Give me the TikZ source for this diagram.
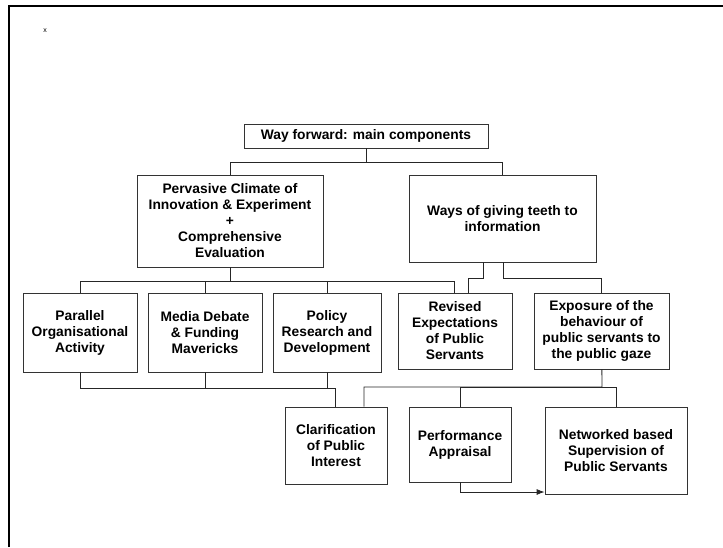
\documentclass[tikz,border=0pt]{standalone}
\usepackage{fontspec}
\setmainfont{Liberation Sans}
\usepackage{tikz}
\usetikzlibrary{arrows}
\usetikzlibrary{arrows.meta}
\usetikzlibrary{positioning}

\begin{document}
\begin{tikzpicture}[x=1pt, y=-1pt,
    box/.style={draw=black!80, line width=0.8pt, inner sep=0pt, align=center,
      font=\bfseries\fontsize{13.8}{16}\selectfont},
    link/.style={draw=black!85, line width=0.8pt}]
      \useasboundingbox (0, 0) rectangle (723, 547);
      \draw [line width=2.6pt] (9, 547) -- (9, 6) -- (723, 6);
      \node (mark) at (45, 31) {\fontsize{7}{8}\selectfont x};

      \node [box, minimum width=244, minimum height=24] (way) at (366, 136) {Way forward: main components};
      \node [box, minimum width=186, minimum height=92] (clim) at (230, 221)
        {Pervasive Climate of\\Innovation \& Experiment\\+\\Comprehensive\\Evaluation};
      \node [box, minimum width=187, minimum height=87] (teeth) at (502.5, 218.5)
        {Ways of giving teeth to\\information};

      \node [box, minimum width=114, minimum height=79] (par) at (80, 332.5) {Parallel\\Organisational\\Activity};
      \node [box, minimum width=114, minimum height=79] (media) at (205, 332.5) {Media Debate\\\& Funding\\Mavericks};
      \node [box, minimum width=108, minimum height=79] (policy) at (327, 332.5) {Policy\\Research and\\Development};
      \node [box, minimum width=114, minimum height=76] (revised) at (455, 331) {Revised\\Expectations\\of Public\\Servants};
      \node [box, minimum width=135, minimum height=76] (expo) at (601.5, 331)
        {Exposure of the\\behaviour of\\public servants to\\the public gaze};

      \node [box, minimum width=102, minimum height=77] (clar) at (336, 445.5) {Clarification\\of Public\\Interest};
      \node [box, minimum width=102, minimum height=75] (perf) at (460, 444.5) {Performance\\Appraisal};
      \node [box, minimum width=142, minimum height=87] (net) at (616, 450.5)
        {Networked based\\Supervision of\\Public Servants};

      \coordinate (j0) at (366, 162);
      \coordinate (j1) at (230, 281);
      \coordinate (j2) at (483, 278);
      \coordinate (j3) at (503, 278);
      \coordinate (j4) at (335, 388);
      \coordinate (j5) at (602, 387);
      \coordinate (j6) at (460, 492);

      \draw [link] (way) -- (j0) -| (clim);
      \draw [link] (j0) -| (teeth);

      \draw [link] (clim) -- (j1) -| (par);
      \draw [link] (j1) -| (media);
      \draw [link] (j1) -| (policy);
      \draw [link] (j1) -| ([xshift=-1]revised.north);

      \draw [link] (teeth.south -| j2) -- (j2) -| ([xshift=13]revised.north);
      \draw [link] (teeth.south -| j3) -- (j3) -| (expo);

      \draw [link] (par) |- (j4);
      \draw [link] (media) |- (j4);
      \draw [link] (policy) |- (j4) -- (clar.north -| j4);

      \draw [link] (expo) -- (j5) -| ([xshift=28]clar.north);
      \draw [link] (j5) -| (perf);
      \draw [link] (j5) -| (net);

      \draw [link, -{Latex[length=8pt, width=6pt]}] (perf) -- (j6) -- (j6 -| net.west);
\end{tikzpicture}
\end{document}
